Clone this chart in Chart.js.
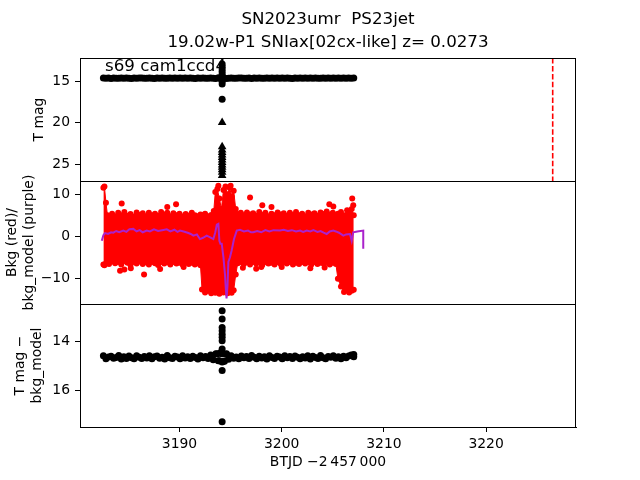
<!DOCTYPE html>
<html>
<head>
<meta charset="utf-8">
<title>SN2023umr TESS light curve</title>
<script src="https://cdn.jsdelivr.net/npm/chart.js@4.4.1/dist/chart.umd.min.js"></script>
<style>
    html, body { margin: 0; padding: 0; background: #fff; }
    #wrap { width: 640px; height: 480px; }
</style>
</head>
<body>
<div id="wrap"><canvas id="lcChart" width="640" height="480"></canvas></div>
<script>
// ========================================
// DATA
// ========================================
const titleLines = ['SN2023umr  PS23jet', '19.02w-P1 SNIax[02cx-like] z= 0.0273'];
const sectorLabel = 's69 cam1ccd4';
const xTitle = 'BTJD \u22122\u2009457\u2009000';
const topTitle = 'T mag';
const midTitle = ['Bkg (red)/', 'bkg_model (purple)'];
const botTitle = ['T mag \u2212', 'bkg_model'];

const xTicks = [3190, 3200, 3210, 3220];
const topTicks = [15, 20, 25];
const midTicks = [10, 0, -10];
const botTicks = [14, 16];

const xRange = [3180.26, 3228.8];
const topRange = [12.23, 27.05];
const midRange = [-15.95, 13.1];
const botRange = [12.45, 17.51];

// light curve cadence samples
const bandTimes = [3182.55, 3182.80, 3183.05, 3183.30, 3183.55, 3183.80, 3184.05, 3184.30, 3184.55, 3184.80,
    3185.05, 3185.30, 3185.55, 3185.80, 3186.05, 3186.30, 3186.55, 3186.80, 3187.05, 3187.30,
    3187.55, 3187.80, 3188.05, 3188.30, 3188.55, 3188.80, 3189.05, 3189.30, 3189.55, 3189.80,
    3190.05, 3190.30, 3190.55, 3190.80, 3191.05, 3191.30, 3191.55, 3191.80, 3192.05, 3192.30,
    3192.55, 3192.80, 3193.05, 3193.30, 3193.55, 3193.80, 3194.05, 3194.30, 3194.55, 3194.80,
    3195.05, 3195.30, 3195.55, 3195.80, 3196.05, 3196.30, 3196.55, 3196.80, 3197.05, 3197.30,
    3197.55, 3197.80, 3198.05, 3198.30, 3198.55, 3198.80, 3199.05, 3199.30, 3199.55, 3199.80,
    3200.05, 3200.30, 3200.55, 3200.80, 3201.05, 3201.30, 3201.55, 3201.80, 3202.05, 3202.30,
    3202.55, 3202.80, 3203.05, 3203.30, 3203.55, 3203.80, 3204.05, 3204.30, 3204.55, 3204.80,
    3205.05, 3205.30, 3205.55, 3205.80, 3206.05, 3206.30, 3206.55, 3206.80, 3207.05];

const topBandMag = [14.62, 14.66, 14.64, 14.68, 14.63, 14.65, 14.67, 14.62, 14.66, 14.64,
    14.65, 14.68, 14.63, 14.66, 14.64, 14.62, 14.67, 14.65, 14.63, 14.66,
    14.68, 14.64, 14.66, 14.63, 14.65, 14.67, 14.62, 14.66, 14.64, 14.65,
    14.63, 14.67, 14.64, 14.66, 14.62, 14.65, 14.68, 14.64, 14.66, 14.63,
    14.65, 14.67, 14.62, 14.66, 14.70, 14.60, 14.72, 14.58, 14.70, 14.66,
    14.63, 14.65, 14.67, 14.62, 14.64, 14.66, 14.65, 14.63, 14.68, 14.64,
    14.66, 14.62, 14.65, 14.67, 14.63, 14.66, 14.64, 14.65, 14.62, 14.67,
    14.64, 14.66, 14.63, 14.65, 14.68, 14.62, 14.66, 14.64, 14.65, 14.63,
    14.67, 14.64, 14.66, 14.62, 14.65, 14.67, 14.63, 14.66, 14.64, 14.65,
    14.62, 14.67, 14.64, 14.66, 14.63, 14.65, 14.64, 14.66, 14.63];

const botBandMag = [14.58, 14.70, 14.63, 14.60, 14.68, 14.65, 14.57, 14.71, 14.62, 14.69,
    14.59, 14.66, 14.70, 14.58, 14.64, 14.69, 14.61, 14.67, 14.58, 14.70,
    14.62, 14.59, 14.68, 14.64, 14.71, 14.57, 14.66, 14.69, 14.60, 14.63,
    14.70, 14.58, 14.67, 14.62, 14.69, 14.60, 14.65, 14.71, 14.58, 14.66,
    14.61, 14.69, 14.55, 14.74, 14.50, 14.78, 14.48, 14.80, 14.52, 14.72,
    14.58, 14.68, 14.63, 14.70, 14.59, 14.66, 14.61, 14.69, 14.57, 14.64,
    14.70, 14.60, 14.67, 14.62, 14.71, 14.58, 14.65, 14.69, 14.60, 14.63,
    14.70, 14.58, 14.66, 14.61, 14.69, 14.59, 14.64, 14.70, 14.62, 14.67,
    14.58, 14.71, 14.60, 14.65, 14.69, 14.57, 14.66, 14.70, 14.61, 14.64,
    14.58, 14.68, 14.62, 14.70, 14.60, 14.66, 14.59, 14.55, 14.62];

// outburst column at one epoch
const spikeTime = 3194.17;
const topSpikeMag = [12.95, 13.25, 13.55, 13.85, 14.15, 14.45, 14.75, 15.05, 15.35, 17.2];
const topLimitMag = [20.0, 22.9, 23.3, 23.6, 23.9, 24.2, 24.5, 24.8, 25.1, 25.4, 25.7, 26.0, 26.38];
const botSpikeMag = [12.73, 13.07, 13.42, 13.55, 13.69, 13.82, 13.96, 14.3, 14.5, 14.84, 15.18, 17.29];
const botExtraX = [3193.7, 3193.9, 3194.0, 3194.4, 3194.6, 3207.05];
const botExtraMag = [14.5, 14.78, 14.45, 14.8, 14.5, 14.53];

// background: red cloud envelope
const redEnvX = [3182.55, 3182.65, 3182.8, 3182.95, 3183.1, 3183.4, 3183.7, 3184.0, 3184.3, 3184.6,
    3184.9, 3185.2, 3185.5, 3185.8, 3186.1, 3186.4, 3186.7, 3187.0, 3187.3, 3187.6,
    3187.9, 3188.2, 3188.5, 3188.8, 3189.1, 3189.4, 3189.7, 3190.0, 3190.3, 3190.6,
    3190.9, 3191.2, 3191.5, 3191.8, 3192.05, 3192.2, 3192.5, 3192.8, 3193.1, 3193.35,
    3193.5, 3193.7, 3193.9, 3194.1, 3194.3, 3194.5, 3194.7, 3194.9, 3195.1, 3195.3,
    3195.5, 3195.7, 3196.0, 3196.3, 3196.6, 3196.9, 3197.2, 3197.5, 3197.8, 3198.1,
    3198.4, 3198.7, 3199.0, 3199.3, 3199.6, 3199.9, 3200.2, 3200.5, 3200.8, 3201.1,
    3201.4, 3201.7, 3202.0, 3202.3, 3202.6, 3202.9, 3203.2, 3203.5, 3203.8, 3204.1,
    3204.4, 3204.7, 3205.0, 3205.3, 3205.5, 3205.8, 3206.1, 3206.4, 3206.6, 3206.85, 3207.05];
const redTop = [11.5, 11.8, 8.0, 5.0, 4.6, 5.4, 4.8, 5.6, 5.0, 5.8,
    4.9, 5.3, 4.7, 5.7, 5.1, 5.5, 4.8, 5.6, 5.0, 5.4,
    4.9, 5.8, 5.2, 5.6, 4.8, 5.5, 5.0, 5.4, 4.7, 5.3,
    4.9, 5.6, 5.0, 4.8, 5.2, 5.0, 5.4, 4.8, 5.1, 6.0,
    10.5, 11.2, 9.0, 6.5, 11.0, 11.8, 10.0, 11.5, 9.5, 10.8,
    6.5, 5.3, 5.6, 5.0, 5.7, 5.2, 5.5, 4.9, 5.8, 5.1,
    5.6, 4.8, 5.4, 5.0, 5.7, 5.2, 5.5, 4.9, 5.6, 5.1,
    5.8, 5.0, 5.4, 4.8, 5.6, 5.2, 5.5, 4.9, 5.7, 5.3,
    5.9, 5.2, 5.6, 5.0, 5.4, 5.8, 5.0, 6.2, 5.5, 6.5, 5.0];
const redBottom = [-6.6, -6.8, -6.4, -6.0, -6.5, -5.9, -6.3, -6.0, -6.6, -5.8,
    -6.2, -6.7, -6.0, -6.4, -5.9, -6.5, -6.1, -6.6, -6.0, -6.3,
    -6.7, -6.0, -6.4, -6.1, -6.6, -6.0, -6.4, -6.2, -6.6, -6.0,
    -6.5, -6.2, -6.6, -6.3, -6.8, -12.5, -13.2, -12.8, -13.4, -12.9,
    -13.3, -13.0, -13.5, -12.8, -13.2, -12.6, -13.4, -12.9, -13.3, -12.7,
    -9.0, -6.3, -6.0, -6.5, -6.1, -6.6, -6.0, -6.4, -6.1, -6.7,
    -6.0, -6.4, -6.2, -6.6, -6.0, -6.5, -6.1, -6.4, -6.0, -6.6,
    -6.2, -6.5, -6.0, -6.4, -6.1, -6.6, -6.0, -6.5, -6.2, -6.4,
    -6.0, -6.6, -6.2, -6.5, -10.0, -11.8, -13.1, -12.6, -13.2, -12.8, -12.6];

// background: scattered red points outside the envelope
const redOutX = [3184.34, 3188.8, 3189.66, 3184.18, 3184.6, 3185.23, 3186.53, 3188.1, 3190.4,
    3196.9, 3198.1, 3199.0, 3204.66, 3205.05, 3206.9, 3207.0, 3206.03, 3196.2, 3197.5,
    3198.0, 3200.0, 3202.8, 3204.2, 3193.8, 3195.0];
const redOutY = [7.8, 7.0, 7.6, -8.1, -7.8, -7.5, -9.0, -7.7, -7.2,
    9.2, 7.4, 7.0, 7.6, 7.1, 9.0, 7.4, -10.3, -7.4, -7.6,
    -7.2, -7.2, -7.5, -7.3, 12.0, 12.0];

// background model (purple)
const modelX = [3182.39, 3182.55, 3182.71, 3183.0, 3183.3, 3183.52, 3183.8, 3184.1, 3184.5, 3184.8,
    3185.1, 3185.48, 3185.8, 3186.1, 3186.4, 3186.79, 3187.1, 3187.5, 3187.9, 3188.3,
    3188.75, 3189.1, 3189.5, 3189.8, 3190.05, 3190.4, 3190.8, 3191.1, 3191.35, 3191.7,
    3192.0, 3192.3, 3192.66, 3193.0, 3193.31, 3193.5, 3193.65, 3193.8, 3193.9, 3194.0,
    3194.13, 3194.3, 3194.45, 3194.52, 3194.6, 3194.7, 3194.78, 3194.94, 3195.1, 3195.33,
    3195.6, 3195.92, 3196.3, 3196.7, 3197.0, 3197.22, 3197.6, 3198.0, 3198.4, 3198.8,
    3199.2, 3199.83, 3200.2, 3200.6, 3201.0, 3201.4, 3201.8, 3202.1, 3202.45, 3202.8,
    3203.1, 3203.5, 3203.8, 3204.1, 3204.4, 3204.7, 3205.05, 3205.3, 3205.6, 3206.03,
    3206.3, 3206.68, 3206.85, 3207.0, 3207.4, 3207.98, 3207.98];
const modelY = [-1.0, 0.3, 0.8, 0.6, 1.0, 0.9, 1.3, 1.0, 1.4, 1.1,
    1.7, 1.8, 1.2, 1.5, 1.0, 1.4, 1.2, 1.7, 1.3, 1.5,
    1.7, 1.2, 1.6, 1.1, 1.4, 1.2, 0.9, 0.6, 0.2, 0.5,
    -0.6, -0.3, 0.2, -0.2, -0.6, 1.0, 2.8, 3.0, -1.0, -1.7,
    -1.7, -5.0, -9.0, -12.0, -14.6, -11.5, -6.0, -4.9, -3.3, -0.6,
    1.4, 1.6, 1.2, 1.4, 1.0, 1.0, 1.3, 1.0, 1.5, 1.2,
    1.5, 1.4, 1.6, 1.3, 1.5, 1.2, 1.4, 1.1, 1.4, 1.2,
    1.5, 1.1, 1.3, 0.9, 0.6, 1.2, 1.4, 1.2, 0.9, 0.2,
    0.5, 0.6, -1.0, 1.0, 1.2, 1.4, -2.9];

// discovery epoch marker
const redLineX = 3226.52;

// ========================================
// HELPERS
// ========================================
const FONT = "'DejaVu Sans', 'Liberation Sans', sans-serif";
const PURPLE = '#aa22cc';

function pts(xs, ys) {
    return xs.map((x, i) => ({ x: x, y: ys[i] }));
}
function column(x, ys) {
    return ys.map(y => ({ x: x, y: y }));
}
function minusSign(v) {
    return v < 0 ? '\u2212' + Math.abs(v) : String(v);
}

function yAxis(range, ticks, reverse, title, titlePad) {
    return {
        type: 'linear',
        position: 'left',
        stack: 'panels',
        stackWeight: 1,
        reverse: reverse,
        min: range[0],
        max: range[1],
        afterBuildTicks: scale => { scale.ticks = ticks.map(v => ({ value: v })); },
        afterFit: scale => { scale.width = 80; },
        ticks: {
            color: '#000',
            padding: 5,
            font: { family: FONT, size: 13.9 },
            callback: v => minusSign(v)
        },
        grid: { drawOnChartArea: false, tickLength: 5, color: '#000', tickWidth: 1 },
        border: { display: true, color: '#000', width: 1 },
        title: {
            display: true,
            text: title,
            color: '#000',
            font: { family: FONT, size: 13.9, lineHeight: 1.25 },
            padding: { top: titlePad, bottom: 0 }
        }
    };
}

// scatter-style dataset (no connecting line)
function dots(label, data, yAxisID, color, radius, style) {
    return {
        type: 'scatter',
        label: label,
        data: data,
        yAxisID: yAxisID,
        showLine: false,
        pointStyle: style || 'circle',
        pointRadius: radius,
        pointBorderWidth: 0,
        pointBackgroundColor: color,
        backgroundColor: color
    };
}

// clip each dataset to its own panel, like separate axes
const panelClip = {
    id: 'panelClip',
    beforeDatasetDraw(chart, args) {
        const ys = chart.scales[args.meta.yAxisID];
        const ca = chart.chartArea;
        chart.ctx.save();
        chart.ctx.beginPath();
        chart.ctx.rect(ca.left, ys.top, ca.right - ca.left, ys.bottom - ys.top);
        chart.ctx.clip();
    },
    afterDatasetDraw(chart) {
        chart.ctx.restore();
    }
};

// boxes round each panel + sector label
const panelFrames = {
    id: 'panelFrames',
    afterDraw(chart) {
        const ctx = chart.ctx;
        const ca = chart.chartArea;
        ctx.save();
        ctx.strokeStyle = '#000';
        ctx.lineWidth = 1;
        ['yTop', 'yMid', 'yBot'].forEach(id => {
            const s = chart.scales[id];
            ctx.strokeRect(Math.round(ca.left) + 0.5, Math.round(s.top) + 0.5,
                Math.round(ca.right - ca.left) - 1, Math.round(s.bottom - s.top));
        });
        const top = chart.scales.yTop;
        ctx.fillStyle = '#000';
        ctx.font = '16.7px ' + FONT;
        ctx.textBaseline = 'alphabetic';
        ctx.textAlign = 'left';
        ctx.fillText(sectorLabel, ca.left + 25, top.top + 12.5);
        ctx.restore();
    }
};

// ========================================
// CHART
// ========================================
const ctx = document.getElementById('lcChart');

const redOutliers = dots('bkg outliers', pts(redOutX, redOutY), 'yMid', '#ff0000', 3);
redOutliers.order = 1;

window.lcChart = new Chart(ctx, {
    type: 'line',
    data: {
        datasets: [
            {
                label: 'bkg_model',
                data: pts(modelX, modelY),
                yAxisID: 'yMid',
                borderColor: PURPLE,
                borderWidth: 2,
                pointRadius: 0,
                fill: false,
                order: 0
            },
            {
                label: 'bkg top',
                data: pts(redEnvX, redTop),
                yAxisID: 'yMid',
                borderColor: '#ff0000',
                backgroundColor: '#ff0000',
                borderWidth: 1,
                pointRadius: 3,
                pointBorderWidth: 0,
                pointBackgroundColor: '#ff0000',
                fill: false,
                order: 3
            },
            {
                label: 'bkg bottom',
                data: pts(redEnvX, redBottom),
                yAxisID: 'yMid',
                borderColor: '#ff0000',
                backgroundColor: '#ff0000',
                borderWidth: 1,
                pointRadius: 3,
                pointBorderWidth: 0,
                pointBackgroundColor: '#ff0000',
                fill: '-1',
                order: 2
            },
            redOutliers,
            dots('T mag', pts(bandTimes, topBandMag).concat(column(spikeTime, topSpikeMag)), 'yTop', '#000', 3.5),
            dots('T mag limits', column(spikeTime, topLimitMag), 'yTop', '#000', 5, 'triangle'),
            {
                label: 'discovery',
                data: [{ x: redLineX, y: topRange[0] }, { x: redLineX, y: topRange[1] }],
                yAxisID: 'yTop',
                borderColor: '#ff0000',
                borderWidth: 1.6,
                borderDash: [5.5, 2.4],
                pointRadius: 0,
                fill: false
            },
            dots('T mag - bkg_model',
                pts(bandTimes, botBandMag).concat(column(spikeTime, botSpikeMag), pts(botExtraX, botExtraMag)),
                'yBot', '#000', 3.5)
        ]
    },
    options: {
        responsive: false,
        animation: false,
        events: [],
        layout: { padding: { left: 0, right: 64, top: 0, bottom: 0 } },
        elements: { line: { tension: 0 } },
        plugins: {
            legend: { display: false },
            tooltip: { enabled: false },
            title: {
                display: true,
                text: titleLines,
                fullSize: false,
                color: '#000',
                font: { family: FONT, size: 16.7, weight: 'normal', lineHeight: 1.38 },
                padding: { top: 8, bottom: 4 }
            }
        },
        scales: {
            x: {
                type: 'linear',
                position: 'bottom',
                min: xRange[0],
                max: xRange[1],
                afterBuildTicks: scale => { scale.ticks = xTicks.map(v => ({ value: v })); },
                afterFit: scale => { scale.height = 53; },
                ticks: {
                    color: '#000',
                    padding: 4,
                    maxRotation: 0,
                    font: { family: FONT, size: 13.9 },
                    callback: v => minusSign(v)
                },
                grid: { drawOnChartArea: false, tickLength: 5, color: '#000' },
                border: { display: true, color: '#000', width: 1 },
                title: {
                    display: true,
                    text: xTitle,
                    color: '#000',
                    font: { family: FONT, size: 13.9, lineHeight: 1.2 },
                    padding: { top: 0, bottom: 9 }
                }
            },
            // stacked axes are laid out bottom-up in the order given
            yBot: yAxis(botRange, botTicks, true, botTitle, 11.5),
            yMid: yAxis(midRange, midTicks, false, midTitle, 3.5),
            yTop: yAxis(topRange, topTicks, true, topTitle, 31)
        }
    },
    plugins: [panelClip, panelFrames]
});
</script>
</body>
</html>
